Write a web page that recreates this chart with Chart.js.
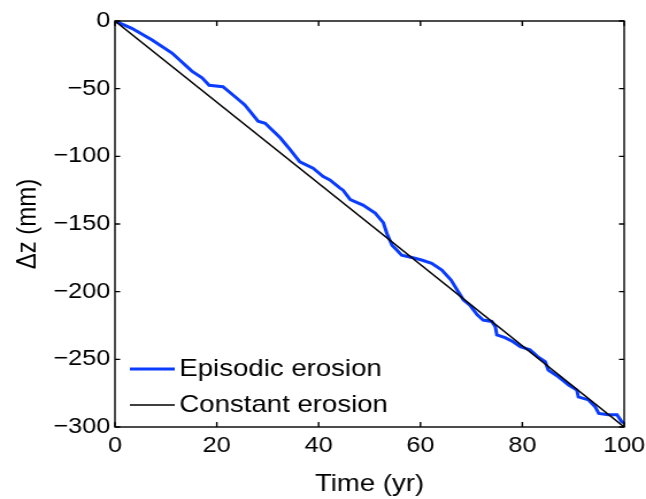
<!DOCTYPE html>
<html lang="en">
<head>
    <meta charset="UTF-8">
    <title>Episodic vs constant erosion</title>
    <script src="https://cdn.jsdelivr.net/npm/chart.js"></script>
    <style>
        body {
            margin: 0;
            padding: 0;
            background: #fff;
        }
        #erosionChart {
            display: block;
        }
    </style>
</head>
<body>
    <!-- the reference figure is stretched horizontally, so the canvas is drawn 562 wide and shown 646 wide -->
    <canvas id="erosionChart" width="562" height="499" style="width: 646px; height: 499px;"></canvas>

    <script>
        // Episodic erosion (blue)
        const episodicTime = [0, 3.3, 7.3, 11.2, 15.1, 17.1, 18.5, 21.2, 23.6, 25.5, 28.1, 29.5, 32.5, 34.4, 36.3,
            38.9, 40.9, 42.2, 44.2, 44.8, 46.2, 48.7, 51.1, 52.7, 53.4, 54.4, 55.3, 56.3, 58.3, 60.2, 62.2, 64.2,
            66.0, 68.4, 69.7, 71.1, 72.3, 74.0, 74.7, 75.0, 76.6, 78.2, 79.6, 81.5, 83.0, 84.5, 85.1, 87.1, 89.1,
            90.7, 91.0, 93.0, 94.3, 95.0, 96.9, 98.6, 99.5, 100];
        const episodicDz = [0, -5.4, -14, -23.7, -37, -42, -47.5, -48.5, -56, -62, -74, -75.6, -86.5, -95, -104,
            -108.8, -115, -117.5, -123.5, -125, -132, -136, -142, -149, -157, -165.6, -169, -173, -174.7, -176.6,
            -179, -184, -191.4, -206, -210, -217, -221, -222, -226, -232, -234, -237, -240.7, -243, -248, -251.8,
            -258, -263, -269, -272.7, -277.7, -280, -285, -290, -291, -291, -296, -297];

        // Constant erosion (black)
        const constantTime = [0, 100];
        const constantDz = [0, -300];

        const xTicks = [0, 20, 40, 60, 80, 100];
        const yTicks = [0, -50, -100, -150, -200, -250, -300];

        const labels = ['Episodic erosion', 'Constant erosion'];

        const toPoints = (xs, ys) => xs.map((x, i) => ({ x: x, y: ys[i] }));
        const minus = v => String(v).replace('-', '\u2212');

        // box round the plot, ticks pointing inwards, legend in the lower left
        const boxAndLegend = {
            id: 'boxAndLegend',
            afterDraw(chart) {
                const ctx = chart.ctx;
                const a = chart.chartArea;
                const xs = chart.scales.x;
                const ys = chart.scales.y;
                ctx.save();
                ctx.strokeStyle = '#000';
                ctx.lineWidth = 1.4;
                ctx.beginPath();
                xTicks.forEach(t => {
                    const px = xs.getPixelForValue(t);
                    ctx.moveTo(px, a.bottom);
                    ctx.lineTo(px, a.bottom - 5);
                    ctx.moveTo(px, a.top);
                    ctx.lineTo(px, a.top + 5);
                });
                yTicks.forEach(t => {
                    const py = ys.getPixelForValue(t);
                    ctx.moveTo(a.left, py);
                    ctx.lineTo(a.left + 4.5, py);
                    ctx.moveTo(a.right, py);
                    ctx.lineTo(a.right - 4.5, py);
                });
                ctx.stroke();
                ctx.strokeRect(a.left, a.top, a.right - a.left, a.bottom - a.top);

                // legend
                ctx.font = '24px "Liberation Sans", Arial, sans-serif';
                ctx.textBaseline = 'middle';
                ctx.fillStyle = '#000';
                const rows = [348, 384];
                chart.data.datasets.forEach((ds, i) => {
                    const y = a.top + rows[i];
                    ctx.strokeStyle = ds.borderColor;
                    ctx.lineWidth = ds.borderWidth;
                    ctx.beginPath();
                    ctx.moveTo(a.left + 13, y);
                    ctx.lineTo(a.left + 52, y);
                    ctx.stroke();
                    ctx.fillText(ds.label, a.left + 56, y);
                });
                ctx.restore();
            }
        };

        const ctx = document.getElementById('erosionChart').getContext('2d');
        new Chart(ctx, {
            type: 'line',
            data: {
                datasets: [
                    {
                        label: labels[0],
                        data: toPoints(episodicTime, episodicDz),
                        borderColor: '#0a3cff',
                        borderWidth: 3,
                        pointRadius: 0,
                        tension: 0,
                        order: 2
                    },
                    {
                        label: labels[1],
                        data: toPoints(constantTime, constantDz),
                        borderColor: '#000000',
                        borderWidth: 1.5,
                        pointRadius: 0,
                        order: 1
                    }
                ]
            },
            options: {
                responsive: false,
                animation: false,
                layout: {
                    padding: { top: 21, right: 19, bottom: 0, left: 0 }
                },
                plugins: {
                    legend: { display: false },
                    tooltip: { enabled: false }
                },
                scales: {
                    x: {
                        type: 'linear',
                        min: 0,
                        max: 100,
                        afterBuildTicks: scale => {
                            scale.ticks = xTicks.map(v => ({ value: v }));
                        },
                        grid: { display: false, drawTicks: false },
                        border: { display: false },
                        ticks: {
                            color: '#000',
                            padding: 6,
                            maxRotation: 0,
                            font: { family: '"Liberation Sans", Arial, sans-serif', size: 22 }
                        },
                        title: {
                            display: true,
                            text: 'Time (yr)',
                            color: '#000',
                            padding: { top: 0, bottom: 0 },
                            font: { family: '"Liberation Sans", Arial, sans-serif', size: 24 }
                        },
                        afterFit: scale => {
                            scale.height = 72;
                            scale.paddingLeft = 0;
                            scale.paddingRight = 0;
                        }
                    },
                    y: {
                        type: 'linear',
                        min: -300,
                        max: 0,
                        afterBuildTicks: scale => {
                            scale.ticks = yTicks.map(v => ({ value: v }));
                        },
                        grid: { display: false, drawTicks: false },
                        border: { display: false },
                        ticks: {
                            color: '#000',
                            padding: 4,
                            callback: v => minus(v),
                            font: { family: '"Liberation Sans", Arial, sans-serif', size: 22 }
                        },
                        title: {
                            display: true,
                            text: '\u0394z (mm)',
                            color: '#000',
                            padding: { top: 10, bottom: 0 },
                            font: { family: '"Liberation Sans", Arial, sans-serif', size: 24 }
                        },
                        afterFit: scale => { scale.width = 100; }
                    }
                }
            },
            plugins: [boxAndLegend]
        });
    </script>
</body>
</html>
